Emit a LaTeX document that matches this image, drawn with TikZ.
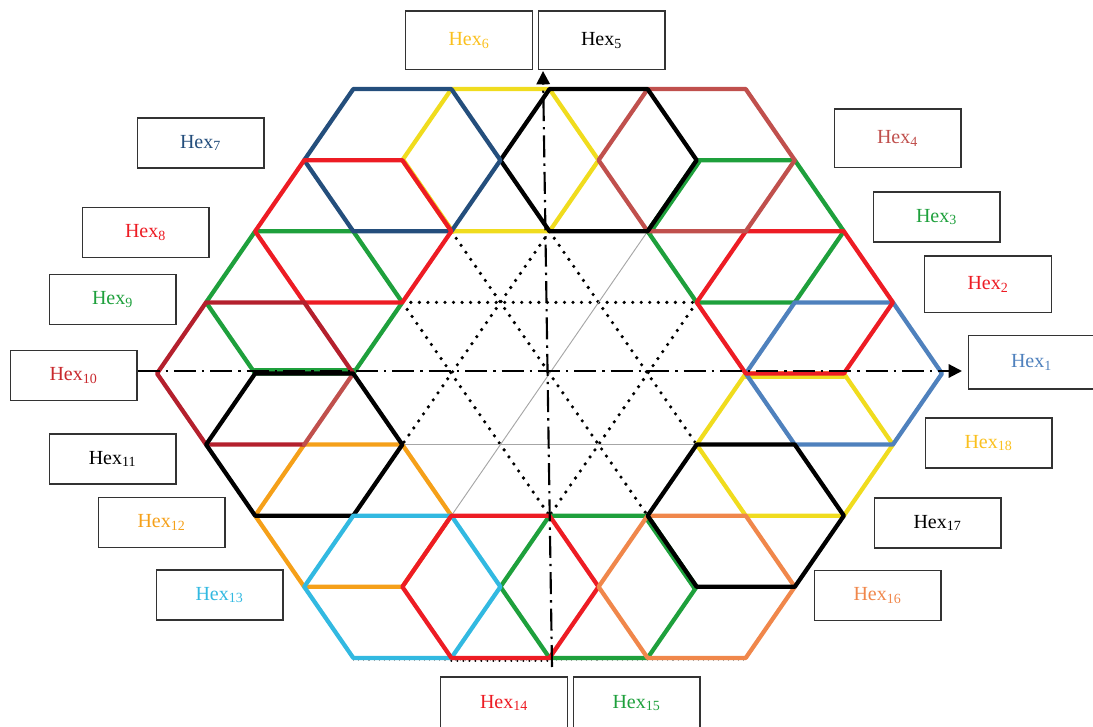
\documentclass[tikz,border=0pt]{standalone}
\usepackage{fontspec}
\setmainfont{Liberation Serif}
\usetikzlibrary{arrows.meta}
\definecolor{cBlue}{RGB}{79,129,189}
\definecolor{cRed}{RGB}{237,28,36}
\definecolor{cGreen}{RGB}{30,160,60}
\definecolor{cRose}{RGB}{192,80,77}
\definecolor{cYellow}{RGB}{240,220,30}
\definecolor{cGold}{RGB}{250,192,30}
\definecolor{cNavy}{RGB}{36,78,124}
\definecolor{cDarkRed}{RGB}{180,32,45}
\definecolor{cDarkRedTxt}{RGB}{200,40,45}
\definecolor{cOrange}{RGB}{245,160,25}
\definecolor{cCyan}{RGB}{50,185,225}
\definecolor{cSalmon}{RGB}{240,135,75}
\newcommand\LX[1]{549.5+(#1)*49.06}
\newcommand\LY[1]{373.5-(#1)*71.1}
\newcommand\hexcell[3]{\draw[hexline,draw=#3] ({\LX{#1-2}},{\LY{#2}}) -- ({\LX{#1-1}},{\LY{#2+1}}) -- ({\LX{#1+1}},{\LY{#2+1}}) -- ({\LX{#1+2}},{\LY{#2}}) -- ({\LX{#1+1}},{\LY{#2-1}}) -- ({\LX{#1-1}},{\LY{#2-1}}) -- cycle;}
\newcommand\hseg[5]{\draw[#5] ({\LX{#1}},{\LY{#2}}) -- ({\LX{#3}},{\LY{#4}});}
\begin{document}
\begin{tikzpicture}[x=0.75pt,y=-0.75pt,
  hexline/.style={line width=3.2pt,line join=round,line cap=round},
  dotline/.style={line width=2.7pt,line cap=round,dash pattern=on 0pt off 6.4pt},
  thinline/.style={line width=0.7pt,draw=black!35},
  axisline/.style={line width=1.6pt,dash pattern=on 16.5pt off 4.5pt on 1.8pt off 4.5pt,-{Triangle[length=10pt,width=10pt]}},
  lbl/.style={draw=black!80,line width=1pt,minimum width=95pt,minimum height=37.5pt,inner sep=0pt,font=\fontsize{15}{18}\selectfont},
  tall/.style={minimum height=44pt}]
\useasboundingbox (0,0) rectangle (1093,727);

% inner dotted and thin lines
\hseg{-3}{1}{3}{1}{dotline}
\hseg{-2}{2}{2}{-2}{dotline}
\hseg{0}{2}{-3}{-1}{dotline}
\hseg{0}{2}{3}{-1}{dotline}
\hseg{3}{1}{0}{-2}{dotline}
\hseg{-3}{1}{0}{-2}{dotline}
\hseg{-3}{-1}{3}{-1}{thinline}
\hseg{2}{2}{-2}{-2}{thinline}
% faint dotted line under bottom edge
\hseg{-4}{-4}{4}{-4}{line width=0.8pt,draw=black!35,dash pattern=on 0.8pt off 3pt,shift={(0,3)}}
\hseg{-2}{-4}{0}{-4}{line width=1.6pt,line cap=round,dash pattern=on 0pt off 4.5pt,shift={(0,3)}}

% shifted copies of hidden shared edges
\hseg{2}{2}{3}{3}{hexline,draw=cGreen,shift={(2.5,1.5)}}
\hseg{4}{0}{6}{0}{hexline,draw=cYellow,shift={(0,3)}}
\hseg{2}{-2}{3}{-3}{hexline,draw=cGreen,shift={(-2.5,1)}}
\hseg{-6}{0}{-4}{0}{hexline,draw=cGreen,shift={(0,-3.5)}}
\hseg{-3}{3}{-2}{2}{hexline,draw=cYellow,shift={(1.5,0.5)}}

% hexagons (under-lying ones first)
\hexcell{-5}{1}{cGreen}
\hexcell{-4}{-2}{cOrange}
\hexcell{1}{-3}{cGreen}
\hexcell{4}{2}{cGreen}
\hexcell{5}{-1}{cYellow}
\hexcell{-1}{3}{cYellow}
\hexcell{6}{0}{cBlue}
\hexcell{5}{1}{cRed}
\hexcell{3}{3}{cRose}
\hexcell{1}{3}{black}
\hexcell{-3}{3}{cNavy}
\hexcell{-4}{2}{cRed}
\draw[hexline,draw=cDarkRed] ({\LX{-5}},{\LY{-1}}) -- ({\LX{-7}},{\LY{-1}}) -- ({\LX{-8}},{\LY{0}}) -- ({\LX{-7}},{\LY{1}}) -- ({\LX{-5}},{\LY{1}}) -- ({\LX{-4}},{\LY{0}});
\hseg{-4}{0}{-5}{-1}{hexline,draw=cRose}
\hexcell{-5}{-1}{black}
\hexcell{-3}{-3}{cCyan}
\hexcell{-1}{-3}{cRed}
\hexcell{3}{-3}{cSalmon}
\hexcell{4}{-2}{black}

% label boxes
\node[lbl,tall,text=cGold] (hex6) at (469,40.5) {Hex\textsubscript{6}};
\node[lbl,tall,text=black] (hex5) at (601.5,40.5) {Hex\textsubscript{5}};
\node[lbl,text=cNavy] (hex7) at (200.5,143) {Hex\textsubscript{7}};
\node[lbl,tall,text=cRose] (hex4) at (897.5,138.5) {Hex\textsubscript{4}};
\node[lbl,text=cGreen] (hex3) at (936.5,217) {Hex\textsubscript{3}};
\node[lbl,text=cRed] (hex8) at (145.5,232.5) {Hex\textsubscript{8}};
\node[lbl,minimum height=42.5pt,text=cRed] (hex2) at (988,284.5) {Hex\textsubscript{2}};
\node[lbl,text=cGreen] (hex9) at (112.5,299.5) {Hex\textsubscript{9}};
\node[lbl,text=cDarkRedTxt] (hex10) at (73.5,375.5) {Hex\textsubscript{10}};
\node[lbl,minimum height=40pt,text=cBlue] (hex1) at (1031.5,362.5) {Hex\textsubscript{1}};
\node[lbl,text=cGold] (hex18) at (988.5,443) {Hex\textsubscript{18}};
\node[lbl,text=black] (hex11) at (112.5,459) {Hex\textsubscript{11}};
\node[lbl,text=black] (hex17) at (937.5,523) {Hex\textsubscript{17}};
\node[lbl,text=cOrange] (hex12) at (161.5,522.5) {Hex\textsubscript{12}};
\node[lbl,text=cSalmon] (hex16) at (877.5,595.5) {Hex\textsubscript{16}};
\node[lbl,text=cCyan] (hex13) at (219.5,595) {Hex\textsubscript{13}};
\node[lbl,minimum height=39pt,text=cRed] (hex14) at (504,703) {Hex\textsubscript{14}};
\node[lbl,minimum height=39pt,text=cGreen] (hex15) at (636.5,703) {Hex\textsubscript{15}};

% axes
\coordinate (xa0) at (hex10.east |- 0,371);
\coordinate (xa1) at (962,371);
\coordinate (ya0) at (552,667);
\coordinate (ya1) at (543,71);
\draw[axisline] (xa0) -- (xa1);
\draw[axisline] (ya0) -- (ya1);
\end{tikzpicture}
\end{document}
